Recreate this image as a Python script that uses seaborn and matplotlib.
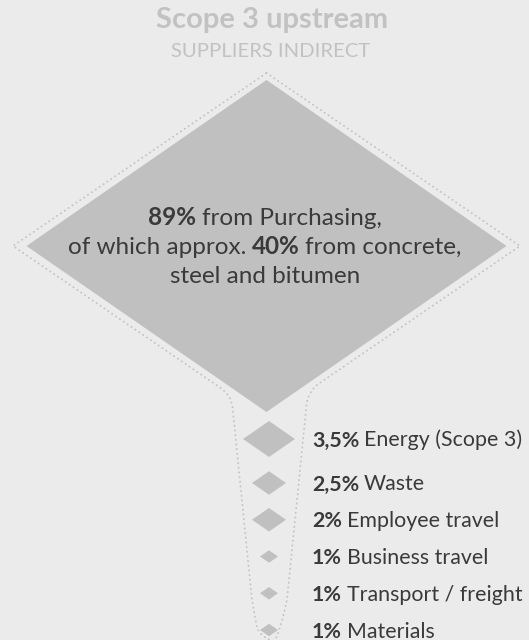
import numpy as np
import pandas as pd
import seaborn as sns
import matplotlib
matplotlib.use("Agg")
import matplotlib.pyplot as plt
from matplotlib.path import Path
from matplotlib.patches import PathPatch

# ---------------- data ----------------
categories = ["Purchasing", "Energy (Scope 3)", "Waste", "Employee travel",
              "Business travel", "Transport / freight", "Materials"]
shares = [89, 3.5, 2.5, 2, 1, 1, 1]
share_labels = ["89%", "3,5%", "2,5%", "2%", "1%", "1%", "1%"]
sub_share_label = "40%"
sub_share_text = ["from concrete,", "steel and bitumen"]
title = "Scope 3 upstream"
subtitle = "SUPPLIERS INDIRECT"

# ---------------- style ----------------
BG = "#ebebeb"
SHAPE = "#c0c0c0"
DOTS = "#c2c2c2"
TEXT = "#3a3a3a"
TITLE = "#c2c2c2"
BODY_WEIGHT = "normal"

sns.set_theme(style="white")
plt.rcParams["font.family"] = ["Lato", "DejaVu Sans"]

W, H = 529, 640
fig = plt.figure(figsize=(W / 100, H / 100), dpi=100)
fig.patch.set_facecolor(BG)
ax = fig.add_axes([0, 0, 1, 1])
ax.set_facecolor(BG)

# layout (pixel-like data units)
big_cx, big_cy = 266.5, 246
row_x = 269
row_y0, row_y1, row_step = 439, 483, 36.75
xs = [big_cx] + [row_x] * (len(categories) - 1)
ys = [big_cy, row_y0] + [row_y1 + row_step * i for i in range(len(categories) - 2)]

# half-width (px) of diamond for each share level
half_w = {89: 240, 3.5: 26, 2.5: 17, 2: 17, 1: 9}
sizes = {k: (2 * v * 72 / 100) ** 2 for k, v in half_w.items()}

df = pd.DataFrame({"category": categories, "share": shares, "x": xs, "y": ys})

aspect = 166 / 240
diamond = Path([(-1, 0), (0, aspect), (1, 0), (0, -aspect), (-1, 0)],
               [Path.MOVETO, Path.LINETO, Path.LINETO, Path.LINETO, Path.CLOSEPOLY])

sns.scatterplot(data=df, x="x", y="y", size="share", sizes=sizes, marker=diamond,
                color=SHAPE, edgecolor="none", linewidth=0, legend=False, ax=ax,
                zorder=2)

ax.set_xlim(0, W)
ax.set_ylim(H, 0)
ax.axis("off")

# ---------------- dotted outline ----------------
hw_o, hh_o = 253.5, 173
top = (big_cx, big_cy - hh_o)
left = (big_cx - hw_o, big_cy)
right = (big_cx + hw_o, big_cy)
M, L, C = Path.MOVETO, Path.LINETO, Path.CURVE3
verts = [top, right,
         (319, 383.5), (308, 391), (306.5, 405),
         (287, 600), (281, 628), (276, 638), (269, 645),
         (262, 638), (257, 628), (252, 600),
         (232.5, 407), (231, 395), (220, 387.5),
         left, top]
codes = [M, L,
         L, C, C,
         L, C, C, L,
         C, C, L,
         L, C, C,
         L, L]
outline = PathPatch(Path(verts, codes), fill=False, edgecolor=DOTS, linewidth=1.35,
                    linestyle=(0, (0.1, 2.4)), capstyle="round", zorder=1)
ax.add_patch(outline)

# ---------------- text ----------------
renderer = fig.canvas.get_renderer()


def space_width(size, weight="normal"):
    a = ax.text(0, 0, "a a", fontsize=size, fontweight=weight)
    b = ax.text(0, 0, "aa", fontsize=size, fontweight=weight)
    w = a.get_window_extent(renderer).width - b.get_window_extent(renderer).width
    a.remove(); b.remove()
    return w


def draw_parts(x, y, parts, size, color, ha="left"):
    objs, widths = [], []
    for txt, wt in parts:
        t = ax.text(0, y, txt, fontsize=size, fontweight=wt, color=color,
                    va="baseline", ha="left", zorder=3)
        objs.append(t)
        widths.append(t.get_window_extent(renderer).width)
    sp = 0.85 * space_width(size, BODY_WEIGHT)
    total = sum(widths) + sp * (len(parts) - 1)
    cur = x - total / 2 if ha == "center" else x
    for t, w in zip(objs, widths):
        t.set_x(cur)
        cur += w + sp


# title
ax.text(272, 28, title, fontsize=21, fontweight="bold", color=TITLE,
        ha="center", va="baseline")
ax.text(271, 57, subtitle, fontsize=14.6, fontweight=BODY_WEIGHT, color=TITLE,
        ha="center", va="baseline")

# centre text of big diamond
cs = 17.5
draw_parts(265, 225, [(share_labels[0], "bold"),
                      ("from " + categories[0] + ",", BODY_WEIGHT)],
           cs, TEXT, ha="center")
draw_parts(265, 254, [("of which approx.", BODY_WEIGHT), (sub_share_label, "bold"),
                      (sub_share_text[0], BODY_WEIGHT)], cs, TEXT, ha="center")
draw_parts(265, 283, [(sub_share_text[1], BODY_WEIGHT)], cs, TEXT, ha="center")

# side labels
for lab, cat, yy in zip(share_labels[1:], categories[1:], ys[1:]):
    draw_parts(312, yy + 7.5, [(lab, "bold"), (cat, BODY_WEIGHT)], 15.4, TEXT)

fig.savefig("out.png", dpi=100, facecolor=BG)
